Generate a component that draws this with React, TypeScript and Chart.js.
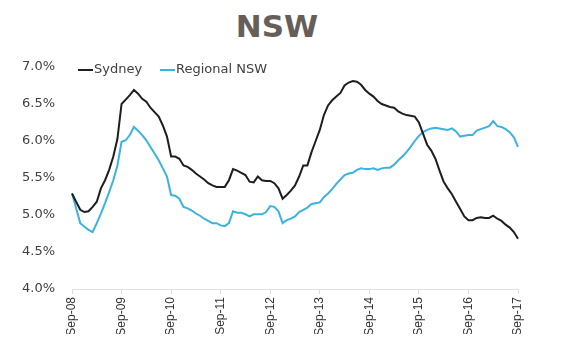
import React, { useEffect, useRef } from "react";
import { Chart, registerables } from "chart.js";

Chart.register(...registerables);

const TITLE = "NSW";
const MONTHS = ["Sep", "Oct", "Nov", "Dec", "Jan", "Feb", "Mar", "Apr", "May", "Jun", "Jul", "Aug"];
const Y_MIN = 4.0;
const Y_MAX = 7.0;
const Y_STEP = 0.5;

const SERIES_NAMES = ["Sydney", "Regional NSW"];

const SYDNEY = [
  5.29, 5.18, 5.07, 5.04, 5.05, 5.11, 5.18, 5.36, 5.47, 5.61, 5.79, 6.03,
  6.5, 6.56, 6.62, 6.69, 6.64, 6.57, 6.53, 6.45, 6.39, 6.33, 6.21, 6.06,
  5.79, 5.79, 5.76, 5.67, 5.65, 5.61, 5.56, 5.52, 5.48, 5.43, 5.4, 5.38,
  5.38, 5.38, 5.47, 5.62, 5.6, 5.57, 5.54, 5.45, 5.44, 5.52, 5.47, 5.46,
  5.46, 5.43, 5.36, 5.22, 5.27, 5.33, 5.4, 5.52, 5.67, 5.67, 5.85, 6.0,
  6.15, 6.35, 6.48, 6.55, 6.6, 6.65, 6.75, 6.79, 6.81, 6.8, 6.76, 6.69,
  6.64, 6.6, 6.54, 6.5, 6.48, 6.46, 6.45, 6.4, 6.37, 6.35, 6.34, 6.33,
  6.25, 6.1, 5.95, 5.87, 5.76, 5.6, 5.45, 5.36, 5.28, 5.18, 5.08, 4.98,
  4.93, 4.93, 4.96, 4.97, 4.96, 4.96, 4.99, 4.95, 4.92, 4.87, 4.83, 4.77,
  4.68,
];

const REGIONAL = [
  5.29, 5.09, 4.89, 4.84, 4.8, 4.77, 4.89, 5.02, 5.16, 5.31, 5.47, 5.67,
  5.99, 6.01, 6.08, 6.19, 6.14, 6.08, 6.01, 5.92, 5.83, 5.74, 5.63, 5.52,
  5.27, 5.26, 5.22, 5.11, 5.09, 5.06, 5.02, 4.99, 4.95, 4.92, 4.89, 4.89,
  4.86, 4.85, 4.89, 5.05, 5.03, 5.03, 5.01, 4.98, 5.01, 5.01, 5.01, 5.04,
  5.12, 5.11, 5.05, 4.89, 4.93, 4.95, 4.98, 5.04, 5.07, 5.1, 5.15, 5.16,
  5.17, 5.24, 5.29, 5.35, 5.42, 5.48, 5.54, 5.56, 5.57, 5.61, 5.63, 5.62,
  5.62, 5.63, 5.61, 5.63, 5.64, 5.64, 5.68, 5.74, 5.79, 5.85, 5.92, 6.0,
  6.07, 6.12, 6.15, 6.17, 6.18, 6.17, 6.16, 6.15, 6.17, 6.13, 6.06, 6.07,
  6.08, 6.08, 6.14, 6.16, 6.18, 6.2, 6.27, 6.2, 6.19, 6.16, 6.12, 6.05,
  5.92,
];

// Monthly category labels Sep-08 .. Sep-17
const LABELS: string[] = [];
for (let i = 0; i < SYDNEY.length; i++) {
  const m = MONTHS[i % 12];
  const yIdx = Math.floor(i / 12) + (i % 12 >= 4 ? 1 : 0);
  const yy = String(8 + yIdx).padStart(2, "0");
  LABELS.push(`${m}-${yy}`);
}

const COLORS = ["#1e1e1e", "#3cb2df"];

const legendPlugin = {
  id: "inlineLegend",
  afterDraw(chart: any) {
    const ctx = chart.ctx;
    const y = 70;
    const starts = [78, 160];
    ctx.save();
    ctx.font = "13px 'DejaVu Sans'";
    ctx.textBaseline = "middle";
    ctx.textAlign = "left";
    chart.data.datasets.forEach((ds: any, i: number) => {
      const x = starts[i];
      ctx.strokeStyle = ds.borderColor;
      ctx.lineWidth = 2;
      ctx.beginPath();
      ctx.moveTo(x, y);
      ctx.lineTo(x + 15, y);
      ctx.stroke();
      ctx.fillStyle = "#404040";
      ctx.fillText(ds.label, x + 16, y);
    });
    ctx.restore();
  },
};

export default function App() {
  const ref = useRef<HTMLCanvasElement>(null);

  useEffect(() => {
    if (!ref.current) return;
    const chart = new Chart(ref.current, {
      type: "line",
      data: {
        labels: LABELS,
        datasets: [
          {
            label: SERIES_NAMES[0],
            data: SYDNEY,
            borderColor: COLORS[0],
            backgroundColor: COLORS[0],
            borderWidth: 2,
            pointRadius: 0,
            tension: 0,
          },
          {
            label: SERIES_NAMES[1],
            data: REGIONAL,
            borderColor: COLORS[1],
            backgroundColor: COLORS[1],
            borderWidth: 2,
            pointRadius: 0,
            tension: 0,
          },
        ],
      },
      options: {
        animation: false,
        responsive: false,
        maintainAspectRatio: false,
        layout: { padding: { left: 22, right: 62, top: 67, bottom: 18 } },
        plugins: {
          legend: { display: false },
          title: { display: false },
          tooltip: { enabled: false },
        },
        scales: {
          x: {
            type: "category",
            offset: false,
            grid: {
              display: true,
              drawOnChartArea: false,
              drawTicks: true,
              tickLength: 5,
              color: (c: any) => (c.index % 12 === 0 ? "#dcdcdc" : "rgba(0,0,0,0)"),
            },
            border: { display: true, color: "#e2e2e2", width: 1 },
            ticks: {
              autoSkip: false,
              maxRotation: 90,
              minRotation: 90,
              padding: 3,
              color: "#333333",
              font: { family: "'Liberation Sans Narrow', 'Liberation Sans'", size: 12 },
              callback: (_v: any, i: number) => (i % 12 === 0 ? LABELS[i] : ""),
            },
            afterFit: (s: any) => {
              s.height = 45;
            },
          },
          y: {
            min: Y_MIN,
            max: Y_MAX,
            grid: { display: false, drawTicks: false },
            border: { display: false },
            ticks: {
              stepSize: Y_STEP,
              padding: 17,
              color: "#404040",
              font: { family: "'DejaVu Sans'", size: 13 },
              callback: (v: any) => Number(v).toFixed(1) + "%",
            },
            afterFit: (s: any) => {
              s.width = 50;
            },
          },
        },
      },
      plugins: [legendPlugin],
    });
    return () => chart.destroy();
  }, []);

  return (
    <div style={{ position: "fixed", left: 0, top: 0, width: 580, height: 352, background: "#ffffff" }}>
      <div
        style={{
          position: "absolute",
          left: 0,
          top: 8,
          width: 554,
          textAlign: "center",
          fontFamily: "'DejaVu Sans', sans-serif",
          fontWeight: "bold",
          fontSize: 31,
          lineHeight: "36px",
          color: "#665e59",
        }}
      >
        {TITLE}
      </div>
      <canvas ref={ref} width={580} height={352} style={{ position: "absolute", left: 0, top: 0 }} />
    </div>
  );
}
